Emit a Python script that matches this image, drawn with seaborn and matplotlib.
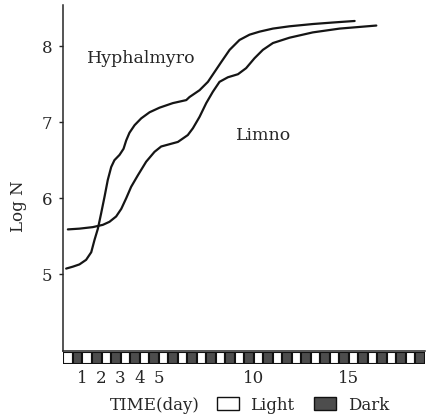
import numpy as np
import pandas as pd
import matplotlib
matplotlib.use("Agg")
import matplotlib.pyplot as plt
from matplotlib.patches import Patch
import seaborn as sns

# values (day, log N)
hyph_day = [0.14, 0.49, 0.84, 1.19, 1.46, 1.63, 1.81, 1.98, 2.16, 2.33, 2.51, 2.68,
            2.95, 3.16, 3.30, 3.47, 3.74, 4.09, 4.53, 5.05, 5.75, 6.46, 6.63, 7.16,
            7.60, 7.95, 8.30, 8.74, 9.26, 9.79, 10.32, 11.02, 11.89, 13.12, 14.18, 15.32]
hyph_logn = [5.075, 5.10, 5.13, 5.19, 5.29, 5.45, 5.60, 5.80, 6.02, 6.24, 6.41, 6.50,
             6.57, 6.65, 6.76, 6.86, 6.96, 7.05, 7.13, 7.19, 7.25, 7.29, 7.33, 7.42,
             7.53, 7.66, 7.79, 7.95, 8.08, 8.15, 8.19, 8.23, 8.26, 8.29, 8.31, 8.33]
limno_day = [0.23, 0.84, 1.54, 2.07, 2.42, 2.77, 3.04, 3.30, 3.56, 3.91, 4.35, 4.79,
             5.14, 5.58, 6.02, 6.54, 6.81, 7.16, 7.51, 7.86, 8.21, 8.65, 9.18, 9.61,
             10.05, 10.49, 11.02, 11.89, 13.12, 14.53, 16.46]
limno_logn = [5.59, 5.60, 5.62, 5.65, 5.69, 5.76, 5.86, 6.00, 6.15, 6.30, 6.48, 6.61,
              6.68, 6.71, 6.74, 6.83, 6.92, 7.07, 7.25, 7.40, 7.53, 7.59, 7.63, 7.71,
              7.84, 7.95, 8.04, 8.11, 8.18, 8.23, 8.27]

x_ticks = [1, 2, 3, 4, 5, 10, 15]
y_ticks = [5, 6, 7, 8]
n_days = 19
phases = ["Light", "Dark"] * n_days  # 12h light / 12h dark

sns.set_style("ticks")
plt.rcParams["font.family"] = ["DejaVu Serif"]
plt.rcParams["font.size"] = 12

df = pd.concat([
    pd.DataFrame({"day": hyph_day, "logN": hyph_logn, "strain": "Hyphalmyro"}),
    pd.DataFrame({"day": limno_day, "logN": limno_logn, "strain": "Limno"}),
])

fig = plt.figure(figsize=(4.34, 4.17), dpi=100)
ax = fig.add_axes([0.1463, 0.158, 0.832, 0.830])
sns.lineplot(data=df, x="day", y="logN", hue="strain", palette=["#151515", "#151515"],
             linewidth=1.6, legend=False, ax=ax, sort=False)
ax.set_xlim(0, n_days)
ax.set_ylim(3.99, 8.54)
ax.set_yticks(y_ticks)
ax.set_xticks([])
ax.set_xlabel("")
ax.set_ylabel("Log N", fontsize=12)
ax.yaxis.set_label_coords(-0.10, 0.42)
ax.tick_params(axis="y", direction="out", length=3, width=1, pad=5, labelsize=12)
for side in ["top", "right"]:
    ax.spines[side].set_visible(False)
ax.spines["left"].set_linewidth(1.1)
ax.spines["bottom"].set_linewidth(1.1)

ax.text(1.21, 7.84, "Hyphalmyro", fontsize=12.5, va="center", ha="left")
ax.text(9.1, 6.82, "Limno", fontsize=12.5, va="center", ha="left")

# light/dark strip
sax = fig.add_axes([0.1463, 0.127, 0.832, 0.029])
starts = np.arange(len(phases)) * 0.5
colors = ["white" if p == "Light" else "#4d4d4d" for p in phases]
sax.bar(starts, [1] * len(phases), width=0.5, align="edge", color=colors,
        edgecolor="#111111", linewidth=1.5)
sax.set_xlim(0, n_days)
sax.set_ylim(0, 1)
sax.set_yticks([])
sax.set_xticks(x_ticks)
sax.tick_params(axis="x", length=0, pad=4, labelsize=12)
for s in sax.spines.values():
    s.set_visible(False)

fig.text(110 / 434, 1 - 405 / 417, "TIME(day)", fontsize=12, va="center", ha="left")
handles = [Patch(facecolor="white", edgecolor="#111111", linewidth=1.0),
           Patch(facecolor="#4d4d4d", edgecolor="#111111", linewidth=1.0)]
fig.legend(handles, ["Light", "Dark"], ncol=2, frameon=False, loc="center left",
           bbox_to_anchor=(217 / 434, 1 - 405 / 417), fontsize=12,
           handlelength=1.3, handleheight=0.8, handletextpad=0.7, columnspacing=1.2,
           borderpad=0, borderaxespad=0)

fig.savefig("out.png", dpi=100)
